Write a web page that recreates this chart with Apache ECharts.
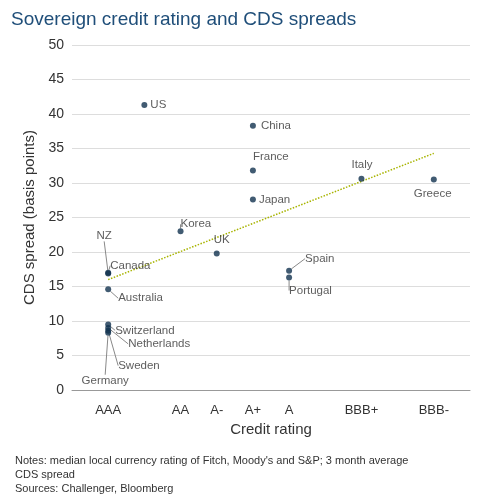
<!DOCTYPE html>
<html><head><meta charset="utf-8">
<script src="https://cdn.jsdelivr.net/npm/echarts@6/dist/echarts.min.js"></script>
<style>html,body{margin:0;padding:0;background:#fff}#c{width:483px;height:498px}</style>
</head><body><div id="c"></div>
<script>
var names = ['US','China','France','Japan','Italy','Greece','Korea','UK','Spain','Portugal','NZ','Canada','Australia','Switzerland','Netherlands','Sweden','Germany'];
var ratingPos = [1,4,4,4,7,9,2,3,5,5,0,0,0,0,0,0,0];
var spreads = [41.3,38.3,31.8,27.6,30.6,30.5,23.0,19.8,17.3,16.3,16.9,17.0,14.6,9.5,9.0,8.6,8.3];
var tickLabels = {0:'AAA',2:'AA',3:'A-',4:'A+',5:'A',7:'BBB+',9:'BBB-'};
var trendX = [0, 9];
var trendY = [16.0, 34.3];
// label offsets from the point, pixels [dx, dy, align]
var offsets = {
  US:[6,0,'left'], China:[8,0,'left'], France:[0,-14,'left'], Japan:[6,0,'left'],
  Italy:[-10,-14,'left'], Greece:[-20,14,'left'], Korea:[0,-7,'left'], UK:[-3,-14,'left'],
  Spain:[16,-12,'left'], Portugal:[0,13,'left'], NZ:[-4,-38,'center'], Canada:[2,-7,'left'],
  Australia:[10,9,'left'], Switzerland:[7,6,'left'], Netherlands:[20,16,'left'],
  Sweden:[10,35,'left'], Germany:[-3,48,'center']
};
var leaders = ['NZ','Canada','Australia','Switzerland','Netherlands','Sweden','Germany','Korea','Spain','Portugal'];

var chart = echarts.init(document.getElementById('c'));
var pts = names.map(function(n,i){
  var d = {name:n, value:[ratingPos[i], spreads[i]]};
  if (leaders.indexOf(n) < 0) d.labelLine = {show:false};
  return d;
});
var txt = '#333';
chart.setOption({
  animation:false,
  textStyle:{fontFamily:'Liberation Sans, Arial'},
  title:[
    {text:'Sovereign credit rating and CDS spreads', left:6, top:5, textStyle:{color:'#1f4e79', fontSize:19, fontWeight:'normal'}},
    {text:"Notes: median local currency rating of Fitch, Moody's and S&P; 3 month average\nCDS spread\nSources: Challenger, Bloomberg", left:10, top:449, textStyle:{color:txt, fontSize:11, fontWeight:'normal', lineHeight:14}}
  ],
  grid:{left:72, right:13, top:45, bottom:108},
  xAxis:{type:'value', min:-1, max:10, interval:1, name:'Credit rating', nameLocation:'middle', nameGap:28,
    nameTextStyle:{fontSize:15, color:txt},
    axisLine:{lineStyle:{color:'#999'}}, axisTick:{show:false},
    splitLine:{show:false},
    axisLabel:{fontSize:13, color:txt, margin:14, formatter:function(v){return tickLabels[v]||'';}}},
  yAxis:{type:'value', min:0, max:50, interval:5, name:'CDS spread (basis points)', nameLocation:'middle', nameGap:34,
    nameTextStyle:{fontSize:15, color:txt},
    axisLine:{show:false, onZero:false}, axisTick:{show:false},
    splitLine:{lineStyle:{color:'#ddd'}},
    axisLabel:{fontSize:14, color:txt}},
  series:[
    {type:'line', data:[[trendX[0],trendY[0]],[trendX[1],trendY[1]]], symbol:'none',
     lineStyle:{color:'#a8b400', type:'dotted', width:1.5}, z:1},
    {type:'scatter', data:pts, symbolSize:6, itemStyle:{color:'#12324f'}, z:3,
     label:{show:true, formatter:'{b}', fontSize:11.5, color:txt, position:'right', distance:0},
     labelLine:{show:true, lineStyle:{color:'#888', width:1}},
     labelLayout:function(p){
       var n = pts[p.dataIndex].name, o = offsets[n];
       var cx = p.rect.x + p.rect.width/2, cy = p.rect.y + p.rect.height/2;
       var w = p.labelRect.width;
       var x = o[2]==='center' ? cx + o[0] - w/2 : cx + o[0];
       return {x:x, y:cy + o[1], align:'left', verticalAlign:'middle'};
     }
    }
  ]
});
</script></body></html>
